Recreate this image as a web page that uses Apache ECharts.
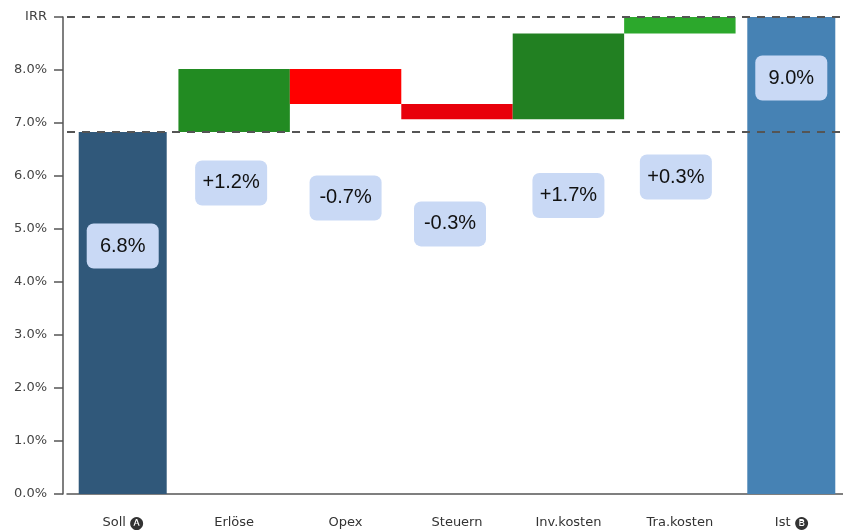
<!DOCTYPE html>
<html>
<head>
<meta charset="utf-8">
<script src="https://cdn.jsdelivr.net/npm/echarts@6/dist/echarts.min.js"></script>
<style>html,body{margin:0;padding:0;background:#fff;overflow:hidden;}#c{width:847px;height:530px;}</style>
</head>
<body>
<div id="c"></div>
<script>
// ---- data ----
const categories = ['Soll 🅐', 'Erlöse', 'Opex', 'Steuern', 'Inv.kosten', 'Tra.kosten', 'Ist 🅑'];
const sollValue = 6.83;
const deltas = [1.19, -0.66, -0.29, 1.62, 0.31];
const istValue = 9.0;
const valueLabels = ['6.8%', '+1.2%', '-0.7%', '-0.3%', '+1.7%', '+0.3%', '9.0%'];
const yTickLabels = ['0.0%', '1.0%', '2.0%', '3.0%', '4.0%', '5.0%', '6.0%', '7.0%', '8.0%', 'IRR'];

// ---- styles ----
const deltaColors = ['#228b22', '#ff0000', '#e8000b', '#228022', '#2ca82c'];
const sollColor = '#30587a';
const istColor = '#4682b4';
// label placement (pixels from bar top, horizontal shift)
const labelStyle = [
  { y: 114, dx: 0 },
  { y: 114, dx: -3 },
  { y: 129, dx: 0 },
  { y: 120, dx: -7 },
  { y: 162, dx: 0 },
  { y: 160, dx: -4 },
  { y: 61, dx: 0 }
];

const FONT = "'Liberation Sans', Arial, sans-serif";
const AXFONT = "'DejaVu Sans', Verdana, sans-serif";

function mkLabel(i) {
  return {
    show: true,
    position: ['50%', labelStyle[i].y],
    offset: [labelStyle[i].dx, 0],
    align: 'center',
    verticalAlign: 'middle',
    formatter: valueLabels[i],
    fontFamily: FONT,
    fontSize: 20,
    color: '#111',
    backgroundColor: '#c9d9f5',
    borderRadius: 7,
    width: 72,
    height: 45,
    lineHeight: 45,
    padding: 0
  };
}

// build waterfall stacks
const baseData = [];
const deltaData = [];
const totalData = [];
let level = sollValue;
for (let i = 0; i < categories.length; i++) {
  if (i === 0) {
    baseData.push('-'); deltaData.push('-');
    totalData.push({ value: sollValue, itemStyle: { color: sollColor }, label: mkLabel(0) });
  } else if (i === categories.length - 1) {
    baseData.push('-'); deltaData.push('-');
    totalData.push({ value: istValue, itemStyle: { color: istColor }, label: mkLabel(i) });
  } else {
    const d = deltas[i - 1];
    const next = level + d;
    baseData.push(Math.min(level, next));
    deltaData.push({ value: Math.abs(d), itemStyle: { color: deltaColors[i - 1] }, label: mkLabel(i) });
    totalData.push('-');
    level = next;
  }
}

const chart = echarts.init(document.getElementById('c'), null, { renderer: 'canvas' });
chart.setOption({
  animation: false,
  backgroundColor: '#fff',
  grid: { left: 67, right: 0, top: 17, bottom: 36, containLabel: false, outerBoundsMode: 'none' },
  xAxis: [
    {
      type: 'category',
      data: categories,
      axisLine: { lineStyle: { color: '#555', width: 1.5 } },
      axisTick: { alignWithLabel: true, length: 8, lineStyle: { color: '#555', width: 1.5 } },
      axisLabel: { margin: 22, fontSize: 13, color: '#333', fontFamily: AXFONT },
      splitLine: { show: false }
    },
    {
      type: 'category',
      data: categories,
      show: false
    }
  ],
  yAxis: {
    type: 'value',
    min: 0,
    max: 9,
    interval: 1,
    offset: 4,
    axisLine: { show: true, lineStyle: { color: '#555', width: 1.5 } },
    axisTick: { show: true, length: 9, lineStyle: { color: '#555', width: 1.5 } },
    axisLabel: {
      margin: 16,
      fontSize: 13,
      color: '#444',
      fontFamily: AXFONT,
      formatter: function (v) { return yTickLabels[Math.round(v)]; }
    },
    splitLine: { show: false }
  },
  series: [
    {
      type: 'bar', stack: 'w', xAxisIndex: 0, data: baseData,
      barWidth: '100%', itemStyle: { color: 'transparent' }, silent: true
    },
    {
      type: 'bar', stack: 'w', xAxisIndex: 0, data: deltaData,
      barWidth: '100%', z: 2
    },
    {
      type: 'bar', xAxisIndex: 1, data: totalData,
      barWidth: 88, z: 3,
      markLine: {
        silent: true,
        symbol: 'none',
        z: 10,
        label: { show: false },
        lineStyle: { color: '#555', width: 2, type: [8, 7], opacity: 1 },
        data: [{ yAxis: sollValue }, { yAxis: istValue }]
      }
    }
  ]
});
</script>
</body>
</html>
